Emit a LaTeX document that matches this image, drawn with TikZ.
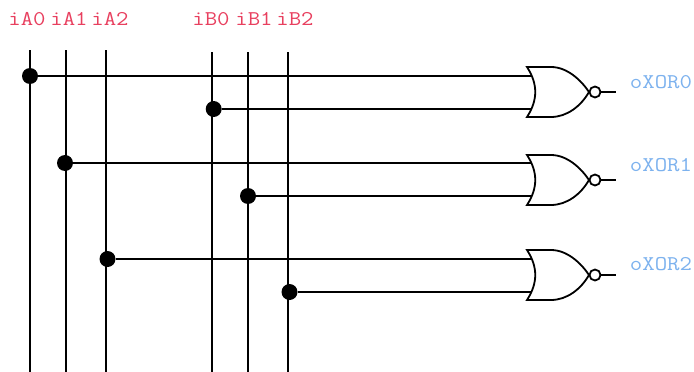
\documentclass[tikz,border=0pt]{standalone}
\usepackage{fontspec}
\setmonofont[FakeStretch=1.15]{Latin Modern Mono}
\usetikzlibrary{calc}
\definecolor{inred}{HTML}{E8405F}
\definecolor{outblue}{HTML}{7DB2EE}

\begin{document}
\begin{tikzpicture}[x=1pt, y=-1pt, line width=1.8pt,
    dot/.style={circle, fill=black, inner sep=0pt, outer sep=0pt, minimum size=16pt},
    bubble/.style={circle, draw=black, fill=white, line width=1.8pt, inner sep=0pt, minimum size=11pt},
    inlabel/.style={text=inred, font=\ttfamily\fontsize{21}{21}\selectfont, inner sep=0pt},
    outlabel/.style={text=outblue, font=\ttfamily\fontsize{21}{21}\selectfont, inner sep=0pt}]
    \useasboundingbox (0, 0) rectangle (694, 372);

    %Labels
    \node[inlabel] at (27, 19) (la0) {iA0};
    \node[inlabel] at (69, 19) (la1) {iA1};
    \node[inlabel] at (110, 19) (la2) {iA2};
    \node[inlabel] at (211, 19) (lb0) {iB0};
    \node[inlabel] at (254, 19) (lb1) {iB1};
    \node[inlabel] at (295, 19) (lb2) {iB2};
    \node[outlabel] at (661, 82) (lx0) {oXOR0};
    \node[outlabel] at (661, 165) (lx1) {oXOR1};
    \node[outlabel] at (661, 264) (lx2) {oXOR2};

    %Bus
    \foreach \name/\x/\top in {a0/30/50, a1/66/50, a2/106/50, b0/212/52, b1/248/52, b2/288/52} {
        \coordinate (\name t) at (\x, \top);
        \coordinate (\name e) at (\x, 372);
        \draw (\name t) -- (\name e);
    }

    %Gates
    \foreach \n/\y/\ya/\yb in {0/92/76/109, 1/180/163/196, 2/275/259/292} {
        \coordinate (g\n) at (527, \y);
        \coordinate (g\n a) at (531, \ya);
        \coordinate (g\n b) at (531, \yb);
        \draw[line join=miter] ($(g\n)+(0,-25)$) -- ($(g\n)+(24,-25)$)
            .. controls ($(g\n)+(40,-25)$) and ($(g\n)+(54,-12)$) .. ($(g\n)+(62,0)$)
            .. controls ($(g\n)+(54,14)$) and ($(g\n)+(40,25)$) .. ($(g\n)+(24,25)$)
            -- ($(g\n)+(0,25)$)
            .. controls ($(g\n)+(11,8)$) and ($(g\n)+(11,-8)$) .. cycle;
        \node[bubble] at (595, \y) (n\n) {};
        \coordinate (o\n) at (616, \y);
        \draw (n\n) -- (o\n);
    }

    %Junctions
    \node[dot] at (30, 76) (d0) {};
    \node[dot] at (213.7, 109) (d1) {};
    \node[dot] at (65, 163) (d2) {};
    \node[dot] at (248, 196) (d3) {};
    \node[dot] at (107.5, 259) (d4) {};
    \node[dot] at (289.5, 292) (d5) {};

    %Lines
    \draw (d0) -- (g0a);
    \draw (d1) -- (g0b);
    \draw (d2) -- (g1a);
    \draw (d3) -- (g1b);
    \draw (d4) -- (g2a);
    \draw (d5) -- (g2b);
\end{tikzpicture}
\end{document}
